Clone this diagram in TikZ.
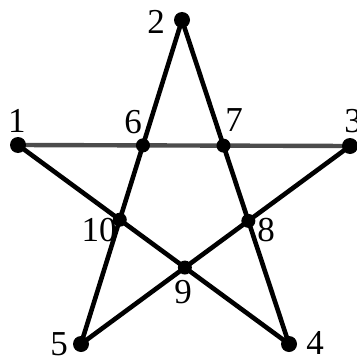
\documentclass[tikz,border=0pt]{standalone}
\usepackage{fontspec}
\setmainfont{Liberation Serif}
\begin{document}
\begin{tikzpicture}[x=1pt,y=-1pt,
  edge/.style={line width=4.6pt,black},
  grayedge/.style={line width=4.4pt,black!70},
  dot/.style={circle,fill=black,inner sep=0pt,minimum size=16pt},
  lab/.style={font=\fontsize{35}{35}\selectfont,inner sep=0pt}]
\useasboundingbox (0,0) rectangle (356,361);
\coordinate (c1) at (18,145);
\coordinate (c2) at (182,20);
\coordinate (c3) at (350,146);
\coordinate (c4) at (289,344);
\coordinate (c5) at (81,344);
\draw[grayedge] (c1) -- (c3);
\draw[edge] (c1) -- (c4);
\draw[edge] (c2) -- (c5);
\draw[edge] (c2) -- (c4);
\draw[edge] (c3) -- (c5);
\node[dot] (p1) at (c1) {};
\node[dot] (p2) at (c2) {};
\node[dot] (p3) at (c3) {};
\node[dot] (p4) at (c4) {};
\node[dot] (p5) at (c5) {};
\node[dot,minimum size=14pt] (p6) at (intersection of c1--c3 and c2--c5) {};
\node[dot,minimum size=14pt] (p7) at (intersection of c1--c3 and c2--c4) {};
\node[dot,minimum size=14pt] (p8) at (intersection of c3--c5 and c2--c4) {};
\node[dot,minimum size=14pt] (p9) at (intersection of c3--c5 and c1--c4) {};
\node[dot,minimum size=14pt] (p10) at (intersection of c1--c4 and c2--c5) {};
\node[lab] (l1) at (17,121) {1};
\node[lab] (l2) at (156,22) {2};
\node[lab] (l3) at (353,121) {3};
\node[lab] (l4) at (315,343) {4};
\node[lab] (l5) at (59,344) {5};
\node[lab] (l6) at (133,122) {6};
\node[lab] (l7) at (234,120) {7};
\node[lab] (l8) at (266,230) {8};
\node[lab] (l9) at (183,292) {9};
\node[lab] (l10) at (99,230) {10};
\end{tikzpicture}
\end{document}
